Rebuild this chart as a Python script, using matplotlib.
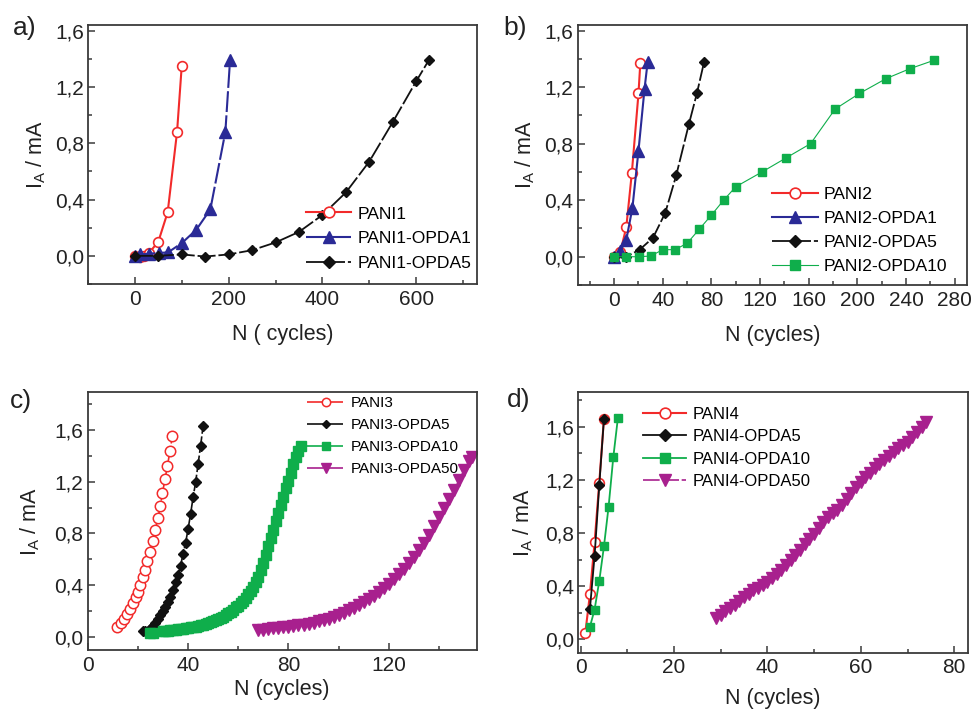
import matplotlib
matplotlib.use("Agg")
import matplotlib.pyplot as plt
from matplotlib.ticker import MultipleLocator

plt.rcParams['font.family'] = ['Liberation Sans', 'DejaVu Sans']
plt.rcParams['mathtext.default'] = 'regular'

RED = '#f22a2a'
BLUE = '#2a2a96'
BLACK = '#111111'
GREEN = '#0fae4b'
MAGENTA = '#a8208e'

# ---- panel a) ----
a_pani1_x = [0, 10, 20, 30, 50, 70, 90, 100]
a_pani1_y = [0.0, -0.01, 0.0, 0.02, 0.10, 0.31, 0.88, 1.35]
a_opda1_x = [0, 12, 30, 51, 71, 100, 131, 161, 193, 203]
a_opda1_y = [0.0, 0.01, 0.015, 0.02, 0.025, 0.09, 0.185, 0.33, 0.88, 1.39]
a_opda5_x = [0, 50, 100, 150, 200, 250, 300, 350, 400, 450, 500, 550, 600, 627]
a_opda5_y = [0.0, 0.0, 0.01, -0.005, 0.01, 0.04, 0.095, 0.17, 0.29, 0.45, 0.67, 0.95, 1.24, 1.39]

# ---- panel b) ----
b_pani2_x = [0, 5, 10, 14.5, 20, 21.5]
b_pani2_y = [0.0, 0.03, 0.21, 0.59, 1.155, 1.37]
b_opda1_x = [0, 5, 10, 15, 20, 25, 27.5]
b_opda1_y = [0.0, 0.04, 0.12, 0.345, 0.75, 1.19, 1.375]
b_opda5_x = [0, 10, 21, 32, 42, 51, 61.5, 68, 74]
b_opda5_y = [0.0, 0.0, 0.05, 0.135, 0.31, 0.575, 0.94, 1.155, 1.38]
b_opda10_x = [0, 10, 20.5, 30, 40, 50, 60, 70, 80, 90, 100, 121.6, 141.5, 161.5,
              181.7, 201.6, 223.5, 243, 263]
b_opda10_y = [0.0, 0.0, 0.0, 0.005, 0.05, 0.05, 0.095, 0.195, 0.295, 0.40, 0.495,
              0.60, 0.70, 0.80, 1.045, 1.155, 1.26, 1.33, 1.39]

# ---- panel c) ----
c_pani3_x = [11.8, 13.3, 14.5, 15.5, 16.8, 17.9, 19.1, 19.9, 21.0, 21.9, 22.8,
             23.7, 24.8, 25.9, 26.9, 28.0, 28.9, 29.8, 30.8, 31.8, 32.8, 33.8]
c_pani3_y = [0.077, 0.108, 0.139, 0.177, 0.219, 0.26, 0.306, 0.347, 0.404, 0.463,
             0.52, 0.589, 0.653, 0.743, 0.826, 0.916, 1.008, 1.111, 1.219, 1.322,
             1.44, 1.556]
c_opda5_x = [22, 23, 24, 25, 26, 27, 28, 29, 30, 31, 32, 33, 34, 35, 36, 37, 38,
             39, 40, 41, 42, 43, 44, 45, 46]
c_opda5_y = [0.045, 0.044, 0.05, 0.064, 0.082, 0.108, 0.139, 0.167, 0.198, 0.229,
             0.27, 0.309, 0.36, 0.422, 0.478, 0.55, 0.64, 0.725, 0.833, 0.949,
             1.078, 1.194, 1.335, 1.477, 1.631]
c_opda10_x = [25, 26, 30, 31, 32, 33, 34, 35, 36, 37, 38, 39, 40, 41, 42, 43, 44,
              45, 46, 47, 48, 49, 50, 51, 52, 53, 54, 55, 56, 57, 58, 59, 60, 61,
              62, 63, 64, 65, 66, 67, 68, 69, 70, 71, 72, 73, 74, 75, 76, 77, 78,
              79, 80, 81, 82, 83, 84, 85]
c_opda10_y = [0.032, 0.034, 0.045, 0.048, 0.05, 0.052, 0.054, 0.056, 0.059, 0.062,
              0.065, 0.068, 0.071, 0.074, 0.077, 0.081, 0.085, 0.09, 0.095, 0.10,
              0.106, 0.113, 0.12, 0.128, 0.137, 0.147, 0.158, 0.17, 0.183, 0.197,
              0.212, 0.228, 0.24, 0.26, 0.282, 0.305, 0.33, 0.358, 0.39, 0.425,
              0.465, 0.515, 0.57, 0.635, 0.70, 0.765, 0.83, 0.895, 0.955, 1.02,
              1.085, 1.15, 1.205, 1.27, 1.335, 1.39, 1.44, 1.476]
c_opda50_x = [68, 70, 72, 74, 76, 78, 80, 82, 84, 86, 88, 90, 92, 94, 96, 98, 100,
              102, 104, 106, 108, 110, 112, 114, 116, 118, 120, 122, 124, 126, 128,
              130, 132, 134, 136, 138, 140, 142, 144, 146, 148, 150, 152, 153]
c_opda50_y = [0.055, 0.058, 0.062, 0.066, 0.07, 0.075, 0.08, 0.085, 0.09, 0.094,
              0.102, 0.11, 0.12, 0.13, 0.142, 0.155, 0.17, 0.187, 0.205, 0.225,
              0.248, 0.272, 0.297, 0.318, 0.348, 0.38, 0.412, 0.448, 0.487, 0.528,
              0.572, 0.62, 0.672, 0.727, 0.79, 0.855, 0.925, 0.995, 1.065, 1.135,
              1.21, 1.29, 1.36, 1.39]

# ---- panel d) ----
d_pani4_x = [1, 2, 3, 4, 5]
d_pani4_y = [0.045, 0.34, 0.73, 1.18, 1.66]
d_opda5_x = [2, 3, 4, 5]
d_opda5_y = [0.23, 0.63, 1.16, 1.66]
d_opda10_x = [2, 3, 4, 5, 6, 7, 8]
d_opda10_y = [0.095, 0.225, 0.44, 0.70, 1.0, 1.37, 1.67]
d_opda50_x = [29, 30, 31, 32, 33, 34, 35, 36, 37, 38, 39, 40, 41, 42, 43, 44, 45,
              46, 47, 48, 49, 50, 51, 52, 53, 54, 55, 56, 57, 58, 59, 60, 61, 62,
              63, 64, 65, 66, 67, 68, 69, 70, 71, 72, 73, 74]
d_opda50_y = [0.16, 0.183, 0.21, 0.235, 0.26, 0.29, 0.32, 0.345, 0.37, 0.39, 0.41,
              0.435, 0.465, 0.495, 0.525, 0.56, 0.597, 0.635, 0.675, 0.715, 0.755,
              0.797, 0.84, 0.88, 0.92, 0.955, 0.975, 1.01, 1.06, 1.10, 1.145, 1.186,
              1.22, 1.255, 1.29, 1.32, 1.35, 1.38, 1.41, 1.44, 1.463, 1.487, 1.52,
              1.56, 1.60, 1.638]

y_ticks = [0.0, 0.4, 0.8, 1.2, 1.6]
y_ticklabels = ['0,0', '0,4', '0,8', '1,2', '1,6']
DASH = (0, (10, 1.6))


def style_axes(ax, xmajor, xminor, xlim, ylim, xlabel, xlabelpad, ylabelpad):
    ax.set_xlim(*xlim)
    ax.set_ylim(*ylim)
    ax.xaxis.set_major_locator(MultipleLocator(xmajor))
    ax.xaxis.set_minor_locator(MultipleLocator(xminor))
    ax.set_yticks(y_ticks, labels=y_ticklabels)
    ax.yaxis.set_minor_locator(MultipleLocator(0.2))
    for sp in ax.spines.values():
        sp.set_color('#3a3a3a')
        sp.set_linewidth(1.3)
    ax.tick_params(which='both', direction='in', top=False, right=False,
                   color='#3a3a3a', width=1.1, labelsize=15, labelcolor='#222222')
    ax.tick_params(which='major', length=5, pad=4)
    ax.tick_params(which='minor', length=3)
    ax.tick_params(axis='y', pad=3)
    ax.set_xlabel(xlabel, fontsize=15.5, color='#222222', labelpad=xlabelpad)
    ax.set_ylabel('I$_A$ / mA', fontsize=15.5, color='#222222', labelpad=ylabelpad)


def add_legend(ax, anchor, size, spacing, hlen=2.6, mscale=1.1):
    ax.legend(loc='upper left', bbox_to_anchor=anchor, frameon=False,
              fontsize=size, borderpad=0, borderaxespad=0, handlelength=hlen,
              handletextpad=0.35, labelspacing=spacing, markerscale=mscale)


fig = plt.figure(figsize=(9.73, 7.13), dpi=100)
ax_a = fig.add_axes([0.0904, 0.6017, 0.400, 0.3633])
ax_b = fig.add_axes([0.5937, 0.6003, 0.400, 0.3647])
ax_c = fig.add_axes([0.0901, 0.0884, 0.3998, 0.3614])
ax_d = fig.add_axes([0.5943, 0.0846, 0.4008, 0.3652])

# a)
ax_a.plot(a_pani1_x, a_pani1_y, '-', color=RED, lw=1.5, marker='o', ms=7,
          mfc='white', mec=RED, mew=1.2, label='PANI1')
ax_a.plot(a_opda1_x, a_opda1_y, ls=DASH, color=BLUE, lw=1.5, marker='^', ms=8,
          mec=BLUE, label='PANI1-OPDA1')
ax_a.plot(a_opda5_x, a_opda5_y, ls=DASH, color=BLACK, lw=1.3, marker='D', ms=5.4,
          mec=BLACK, label='PANI1-OPDA5')
style_axes(ax_a, 200, 100, (-100, 730), (-0.2, 1.64), 'N ( cycles)', 11, 5)
add_legend(ax_a, (0.56, 0.30), 12.6, 0.55)

# b)
ax_b.plot(b_pani2_x, b_pani2_y, '-', color=RED, lw=1.5, marker='o', ms=7,
          mfc='white', mec=RED, mew=1.2, label='PANI2')
ax_b.plot(b_opda1_x, b_opda1_y, '-', color=BLUE, lw=1.5, marker='^', ms=8,
          mec=BLUE, label='PANI2-OPDA1')
ax_b.plot(b_opda5_x, b_opda5_y, ls=DASH, color=BLACK, lw=1.3, marker='D', ms=5.4,
          mec=BLACK, label='PANI2-OPDA5')
ax_b.plot(b_opda10_x, b_opda10_y, '-', color=GREEN, lw=0.8, marker='s', ms=6,
          mec=GREEN, label='PANI2-OPDA10')
style_axes(ax_b, 40, 20, (-30, 290), (-0.2, 1.64), 'N (cycles)', 11, 5)
add_legend(ax_b, (0.50, 0.378), 12.6, 0.5)

# c)
ax_c.plot(c_pani3_x, c_pani3_y, ls=DASH, color=RED, lw=1.2, marker='o', ms=7.5,
          mfc='white', mec=RED, mew=1.1, label='PANI3')
ax_c.plot(c_opda5_x, c_opda5_y, ls=DASH, color=BLACK, lw=1.2, marker='D', ms=5.4,
          mec=BLACK, label='PANI3-OPDA5')
ax_c.plot(c_opda10_x, c_opda10_y, ls=DASH, color=GREEN, lw=1.2, marker='s', ms=6.8,
          mec=GREEN, label='PANI3-OPDA10')
ax_c.plot(c_opda50_x, c_opda50_y, ls=DASH, color=MAGENTA, lw=1.2, marker='v', ms=8.5,
          mec=MAGENTA, label='PANI3-OPDA50')
style_axes(ax_c, 40, 20, (0, 155), (-0.1, 1.89), 'N (cycles)', 3, 9)
add_legend(ax_c, (0.564, 0.985), 11, 0.52, hlen=2.5, mscale=0.8)

# d)
ax_d.plot(d_pani4_x, d_pani4_y, '-', color=RED, lw=1.5, marker='o', ms=7,
          mfc='white', mec=RED, mew=1.2, label='PANI4')
ax_d.plot(d_opda5_x, d_opda5_y, '-', color=BLACK, lw=1.3, marker='D', ms=5.6,
          mec=BLACK, label='PANI4-OPDA5')
ax_d.plot(d_opda10_x, d_opda10_y, '-', color=GREEN, lw=1.3, marker='s', ms=6,
          mec=GREEN, label='PANI4-OPDA10')
ax_d.plot(d_opda50_x, d_opda50_y, ls=DASH, color=MAGENTA, lw=1.2, marker='v', ms=8,
          mec=MAGENTA, label='PANI4-OPDA50')
style_axes(ax_d, 20, 10, (-0.5, 83), (-0.1, 1.86), 'N (cycles)', 8, 7)
add_legend(ax_d, (0.166, 0.945), 12, 0.45)

for txt, x, y in [('a)', 0.0134, 0.951), ('b)', 0.517, 0.951),
                  ('c)', 0.0103, 0.428), ('d)', 0.521, 0.429)]:
    fig.text(x, y, txt, fontsize=19, color='#222222', va='baseline', ha='left')

fig.savefig('out.png', dpi=100)
